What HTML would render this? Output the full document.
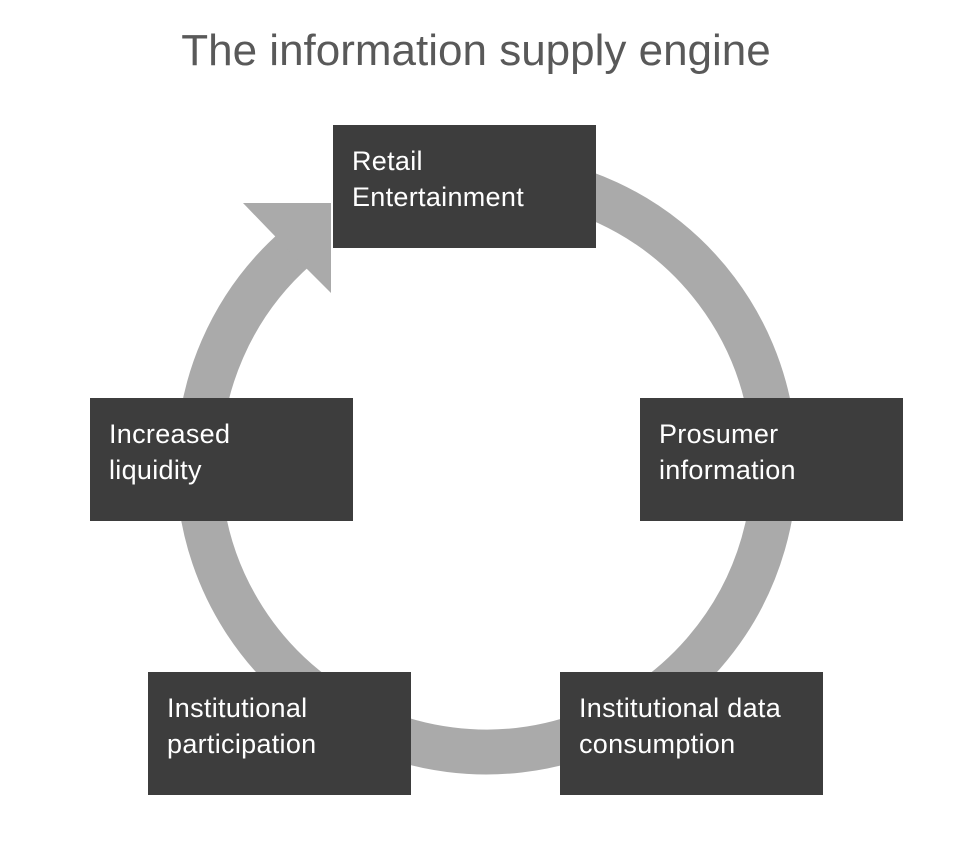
<!DOCTYPE html>
<html><head><style>
body{margin:0;width:976px;height:854px;background:#fff;position:relative;overflow:hidden;font-family:"Liberation Sans",sans-serif}
.t{position:absolute;left:0;width:952px;top:26px;text-align:center;font-size:44px;color:#595959}
.b{position:absolute;width:263px;height:123px;background:#3d3d3d;color:#fff;font-size:27px;letter-spacing:0.3px;line-height:36px;box-sizing:border-box;padding:18px 0 0 19px;white-space:nowrap}
</style></head><body>
<div class="t">The information supply engine</div>
<svg width="976" height="854" style="position:absolute;left:0;top:0">
<path d="M486 176 A288 288 0 1 1 296 248" fill="none" stroke="#aaaaaa" stroke-width="45"/>
<polygon points="243,203 331,203 331,293 302,264 270,231" fill="#aaaaaa"/>
</svg>
<div class="b" style="left:333px;top:125px">Retail<br>Entertainment</div>
<div class="b" style="left:640px;top:398px">Prosumer<br>information</div>
<div class="b" style="left:90px;top:398px">Increased<br>liquidity</div>
<div class="b" style="left:148px;top:672px">Institutional<br>participation</div>
<div class="b" style="left:560px;top:672px">Institutional data<br>consumption</div>
</body></html>
